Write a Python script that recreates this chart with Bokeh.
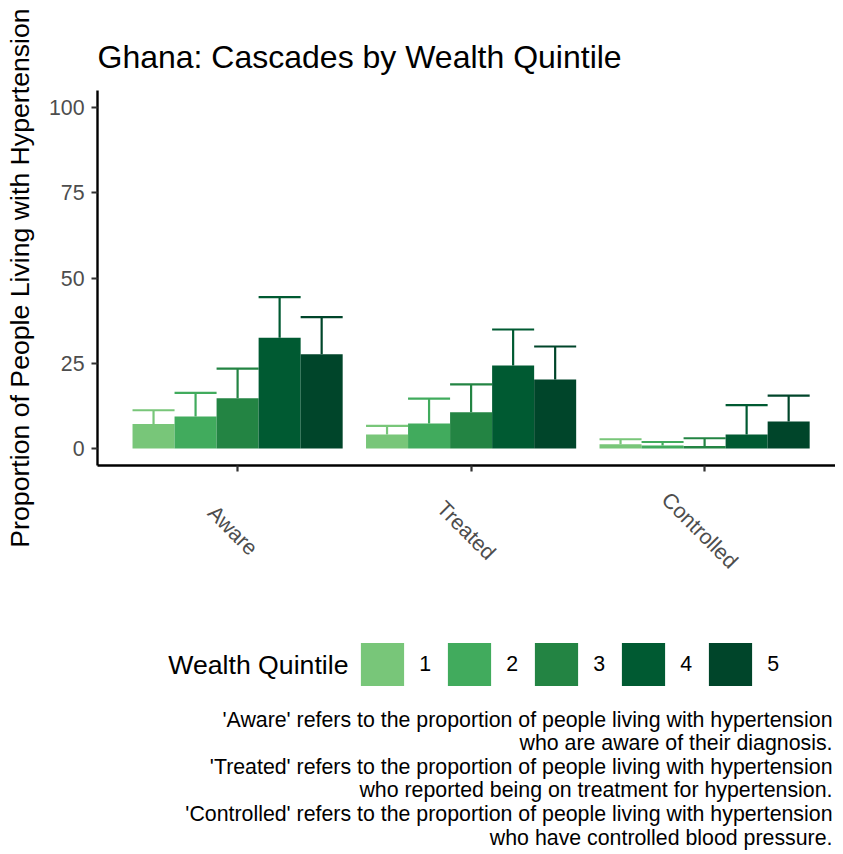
import math
from bokeh.plotting import figure
from bokeh.layouts import column, row
from bokeh.models import (ColumnDataSource, FixedTicker, Legend, LegendItem,
                          Label, Range1d)
from bokeh.embed import file_html
from bokeh.resources import INLINE

# ---------------- data ----------------
categories = ["Aware", "Treated", "Controlled"]
quintiles = ["1", "2", "3", "4", "5"]
colors = ["#78C679", "#41AB5D", "#238443", "#005A32", "#00452A"]

# proportion (%) per quintile 1..5
aware = [7.2, 9.4, 14.7, 32.5, 27.6]
aware_upper = [11.2, 16.3, 23.4, 44.4, 38.5]
treated = [4.1, 7.3, 10.6, 24.3, 20.2]
treated_upper = [6.6, 14.6, 18.8, 34.9, 29.9]
controlled = [1.2, 0.9, 0.7, 4.1, 7.9]
controlled_upper = [2.7, 1.9, 3.0, 12.7, 15.5]

y_ticks = [0, 25, 50, 75, 100]

title_text = "Ghana: Cascades by Wealth Quintile"
y_label = "Proportion of People Living with Hypertension"
legend_title = "Wealth Quintile"
caption_lines = [
    "'Aware' refers to the proportion of people living with hypertension",
    "who are aware of their diagnosis.",
    "'Treated' refers to the proportion of people living with hypertension",
    "who reported being on treatment for hypertension.",
    "'Controlled' refers to the proportion of people living with hypertension",
    "who have controlled blood pressure.",
]

FONT = "Liberation Sans"
values = [aware, treated, controlled]
uppers = [aware_upper, treated_upper, controlled_upper]

# ---------------- layout constants ----------------
STRIP = 45        # left strip holding the y-axis title
LEFT = 49         # y tick labels + ticks
FW, FH = 738, 375
TOP = 90          # space above the bars' frame (title)
BOT1 = 10         # below the frame in the main figure (axis ticks)
TOTAL = 850
H2 = TOTAL - TOP - FH - BOT1   # lower figure: labels, legend, caption
dodge = 0.9
bw = dodge / len(quintiles)
xr = Range1d(0.4, 0.4 + FW / 233.5)


def blank(fig):
    fig.background_fill_color = "white"
    fig.border_fill_color = "white"
    fig.outline_line_color = None
    fig.grid.visible = False


# ---------------- left strip: y-axis title ----------------
s = figure(frame_width=STRIP, frame_height=TOTAL,
           x_range=Range1d(0, STRIP), y_range=Range1d(TOTAL, 0),
           output_backend="svg", toolbar_location=None,
           x_axis_location=None, y_axis_location=None,
           min_border_left=0, min_border_right=0, min_border_top=0,
           min_border_bottom=0)
blank(s)
s.add_layout(Label(x=19, y=TOP + FH / 2, text=y_label, angle=math.pi / 2,
                   text_align="center", text_baseline="middle",
                   text_font=FONT, text_font_size="26.67px",
                   text_color="black"))

# ---------------- main figure ----------------
p = figure(frame_width=FW, frame_height=FH, x_range=xr,
           y_range=Range1d(-5, 105),
           output_backend="svg", toolbar_location=None,
           min_border_left=LEFT, min_border_right=0, min_border_top=TOP,
           min_border_bottom=BOT1, title=title_text)
blank(p)

p.title.text_font = FONT
p.title.text_font_size = "32px"
p.title.text_font_style = "normal"
p.title.text_color = "black"
p.title.align = "left"
p.title.standoff = 31

for qi, q_ in enumerate(quintiles):
    off = (qi - (len(quintiles) - 1) / 2) * bw
    xs = [ci + 1 + off for ci in range(len(categories))]
    tops = [values[ci][qi] for ci in range(len(categories))]
    ups = [uppers[ci][qi] for ci in range(len(categories))]
    src = ColumnDataSource(dict(x=xs, top=tops, up=ups,
                                x0=[x - bw / 2 for x in xs],
                                x1=[x + bw / 2 for x in xs]))
    # error bars first (bars drawn on top)
    p.segment(x0="x", y0="top", x1="x", y1="up", source=src,
              line_color=colors[qi], line_width=2.2)
    p.segment(x0="x0", y0="up", x1="x1", y1="up", source=src,
              line_color=colors[qi], line_width=2.2)
for qi, q_ in enumerate(quintiles):
    off = (qi - (len(quintiles) - 1) / 2) * bw
    xs = [ci + 1 + off for ci in range(len(categories))]
    tops = [values[ci][qi] for ci in range(len(categories))]
    src = ColumnDataSource(dict(x=xs, top=tops))
    p.vbar(x="x", top="top", bottom=0, width=bw, source=src,
           fill_color=colors[qi], line_color=None)

for ax in (p.xaxis[0], p.yaxis[0]):
    ax.axis_line_color = "black"
    ax.axis_line_width = 2.4
    ax.major_tick_line_color = "#333333"
    ax.major_tick_line_width = 2.2
    ax.major_tick_out = 6
    ax.major_tick_in = 0
    ax.minor_tick_line_color = None
    ax.major_label_text_font = FONT
    ax.major_label_text_font_size = "21.33px"
    ax.major_label_text_color = "#4D4D4D"

p.yaxis.ticker = FixedTicker(ticks=y_ticks)
p.yaxis.major_label_standoff = 7

cat_x = [i + 1 for i in range(len(categories))]
p.xaxis.ticker = FixedTicker(ticks=cat_x)
p.xaxis.major_label_overrides = {x: "" for x in cat_x}
p.xaxis.major_label_standoff = 0
p.xaxis.major_label_text_font_size = "1px"

# ---------------- lower figure: tick labels, legend, caption ----------------
q = figure(frame_width=FW, frame_height=H2, x_range=xr,
           y_range=Range1d(H2, 0),
           output_backend="svg", toolbar_location=None,
           x_axis_location=None, y_axis_location=None,
           min_border_left=LEFT, min_border_right=0, min_border_top=0,
           min_border_bottom=0)
blank(q)
Y0 = TOP + FH + BOT1   # page y of the lower figure's top

# rotated category labels (centred under each tick, -45 degrees)
for x, c in zip(cat_x, categories):
    q.add_layout(Label(x=x, y=530 - Y0, x_offset=-5, text=c,
                       angle=-math.pi / 4,
                       text_align="center", text_baseline="middle",
                       text_font=FONT, text_font_size="21.33px",
                       text_color="#4D4D4D"))

# legend proxies (single off-range point each, never visible in the frame)
items = []
for qi, qq in enumerate(quintiles):
    r = q.vbar(x=[xr.start - 1], top=[0], width=bw, fill_color=colors[qi],
               line_color=None)
    items.append(LegendItem(label=qq, renderers=[r]))

legend = Legend(items=items, orientation="horizontal",
                location=(294, H2 - (691 - Y0)),
                glyph_width=54, glyph_height=54,
                label_standoff=10, spacing=11, label_width=12,
                label_text_font=FONT, label_text_font_size="21.33px",
                label_text_color="black", border_line_color=None,
                background_fill_alpha=0, padding=0, margin=0)
q.add_layout(legend)
q.add_layout(Label(x=251, y=664.5 - Y0,
                   x_units="screen", text=legend_title,
                   text_align="right", text_baseline="middle",
                   text_font=FONT, text_font_size="26.67px",
                   text_color="black"))

for i, line in enumerate(caption_lines):
    q.add_layout(Label(x=FW - 3, y=719 - Y0 + 23.6 * i, x_units="screen",
                       text=line, text_align="right", text_baseline="middle",
                       text_font=FONT, text_font_size="21.33px",
                       text_color="black"))

layout = row(s, column(p, q, spacing=0), spacing=0)
open("out.html", "w").write(file_html(layout, INLINE))
